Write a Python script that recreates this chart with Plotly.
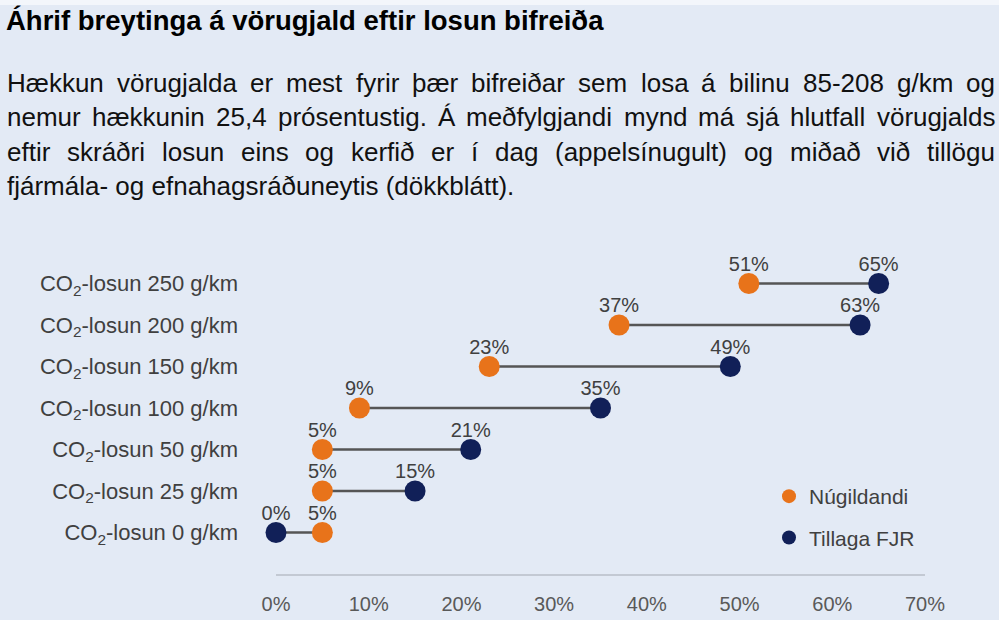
import plotly.graph_objects as go

# ---- data ----
categories = ["CO<sub>2</sub>-losun 0 g/km", "CO<sub>2</sub>-losun 25 g/km", "CO<sub>2</sub>-losun 50 g/km",
              "CO<sub>2</sub>-losun 100 g/km", "CO<sub>2</sub>-losun 150 g/km", "CO<sub>2</sub>-losun 200 g/km",
              "CO<sub>2</sub>-losun 250 g/km"]
nugildandi = [5, 5, 5, 9, 23, 37, 51]
tillaga = [0, 15, 21, 35, 49, 63, 65]
x_ticks = [0, 10, 20, 30, 40, 50, 60, 70]
x_ticklabels = ["0%", "10%", "20%", "30%", "40%", "50%", "60%", "70%"]
series_names = ["Núgildandi", "Tillaga FJR"]

title_text = "Áhrif breytinga á vörugjald eftir losun bifreiða"
para_lines = [
    "Hækkun vörugjalda er mest fyrir þær bifreiðar sem losa á bilinu 85-208 g/km og",
    "nemur hækkunin 25,4 prósentustig. Á meðfylgjandi mynd má sjá hlutfall vörugjalds",
    "eftir skráðri losun eins og kerfið er í dag (appelsínugult) og miðað við tillögu",
    "fjármála- og efnahagsráðuneytis (dökkblátt).",
]

# ---- style ----
ORANGE = "#E8731A"
NAVY = "#112058"
BG = "#E3EAF5"
FONT = "Liberation Sans, Arial, sans-serif"

W, H = 999, 620
L, R, T, B = 276, 74, 242, 46
PW = W - L - R
PH = H - T - B


def px_x(px):
    return (px - L) / PW


def px_y(py):
    return (H - B - py) / PH


# Arial/Helvetica advance widths (1/1000 em) for justification
AW = {' ': 278, ',': 278, '-': 333, '.': 278, '/': 278, '(': 333, ')': 333, '%': 889,
      'a': 556, 'b': 556, 'c': 500, 'd': 556, 'e': 556, 'f': 278, 'g': 556, 'h': 556, 'i': 222,
      'j': 222, 'k': 500, 'l': 222, 'm': 833, 'n': 556, 'o': 556, 'p': 556, 'q': 556, 'r': 333,
      's': 500, 't': 278, 'u': 556, 'v': 500, 'w': 722, 'x': 500, 'y': 500, 'z': 500,
      'æ': 889, 'ö': 556, 'þ': 556, 'ð': 556, 'á': 556, 'í': 278, 'ó': 556, 'ú': 556, 'é': 556,
      'ý': 500, 'Á': 667, 'H': 722}


def text_w(s, fs):
    return sum(AW.get(c, 556) for c in s) * fs / 1000.0


ys = list(range(len(categories)))

fig = go.Figure()

# connector lines
lx, ly = [], []
for i in ys:
    lx += [nugildandi[i], tillaga[i], None]
    ly += [i, i, None]
fig.add_trace(go.Scatter(x=lx, y=ly, mode="lines", line=dict(color="#555555", width=2.5),
                         hoverinfo="skip", showlegend=False))

fig.add_trace(go.Scatter(x=nugildandi, y=ys, mode="markers", name=series_names[0],
                         marker=dict(color=ORANGE, size=21), cliponaxis=False, showlegend=False))
fig.add_trace(go.Scatter(x=tillaga, y=ys, mode="markers", name=series_names[1],
                         marker=dict(color=NAVY, size=21), cliponaxis=False, showlegend=False))

# value labels (transparent small markers so text sits close above the dots)
fig.add_trace(go.Scatter(x=nugildandi + tillaga, y=ys + ys, mode="markers+text",
                         marker=dict(size=11, color="rgba(0,0,0,0)"),
                         text=[f"{v}%" for v in nugildandi + tillaga],
                         textposition="top center", textfont=dict(size=20, color="#404040", family=FONT),
                         cliponaxis=False, showlegend=False, hoverinfo="skip"))

# legend entries
for nm, col in zip(series_names, [ORANGE, NAVY]):
    fig.add_trace(go.Scatter(x=[None], y=[None], mode="markers", name=nm, legendgroup=nm,
                             marker=dict(color=col, size=14), showlegend=True))

annotations = []
annotations.append(dict(text="<b>" + title_text + "</b>", x=px_x(4), y=px_y(21), xref="paper", yref="paper",
                        xanchor="left", yanchor="middle", showarrow=False,
                        font=dict(size=27.5, color="#000000", family=FONT)))

PFS = 26
line_centers = [83, 117, 152, 186]
left_px, right_px = 5, 993
for li, line in enumerate(para_lines):
    words = line.split(" ")
    if li < len(para_lines) - 1:
        widths = [text_w(w, PFS) for w in words]
        gap = (right_px - left_px - sum(widths)) / (len(words) - 1)
        xpos = left_px
        for w, wd in zip(words, widths):
            annotations.append(dict(text=w, x=px_x(xpos), y=px_y(line_centers[li]), xref="paper", yref="paper",
                                    xanchor="left", yanchor="middle", showarrow=False,
                                    font=dict(size=PFS, color="#111111", family=FONT)))
            xpos += wd + gap
    else:
        annotations.append(dict(text=line, x=px_x(left_px), y=px_y(line_centers[li]), xref="paper", yref="paper",
                                xanchor="left", yanchor="middle", showarrow=False,
                                font=dict(size=PFS, color="#111111", family=FONT)))

fig.update_layout(
    width=W, height=H, autosize=False,
    margin=dict(l=L, r=R, t=T, b=B),
    paper_bgcolor=BG, plot_bgcolor=BG,
    font=dict(family=FONT, color="#404040"),
    annotations=annotations,
    shapes=[dict(type="rect", xref="paper", yref="paper", x0=px_x(0), x1=px_x(W), y0=px_y(5), y1=px_y(0),
                 fillcolor="#F3F6FB", line=dict(width=0), layer="below")],
    legend=dict(x=px_x(769), y=px_y(476), xanchor="left", yanchor="top", bgcolor="rgba(0,0,0,0)",
                font=dict(size=21, color="#404040", family=FONT), tracegroupgap=11, itemwidth=30),
    xaxis=dict(range=[0, 70], tickvals=x_ticks, ticktext=x_ticklabels, showgrid=False, zeroline=False,
               showline=True, linecolor="#C3C9D3", linewidth=2, ticks="", ticklabelstandoff=11,
               tickfont=dict(size=20, color="#595959", family=FONT), fixedrange=True, automargin=False),
    yaxis=dict(range=[-1, 7], tickvals=ys, ticktext=categories, showgrid=False, zeroline=False,
               showline=False, ticks="", ticklabelstandoff=37,
               tickfont=dict(size=22, color="#404040", family=FONT), fixedrange=True, automargin=False),
    showlegend=True,
)

fig.write_html("out.html", config={"displayModeBar": False},
               post_script="document.body.style.margin='0';document.body.style.overflow='hidden';")
